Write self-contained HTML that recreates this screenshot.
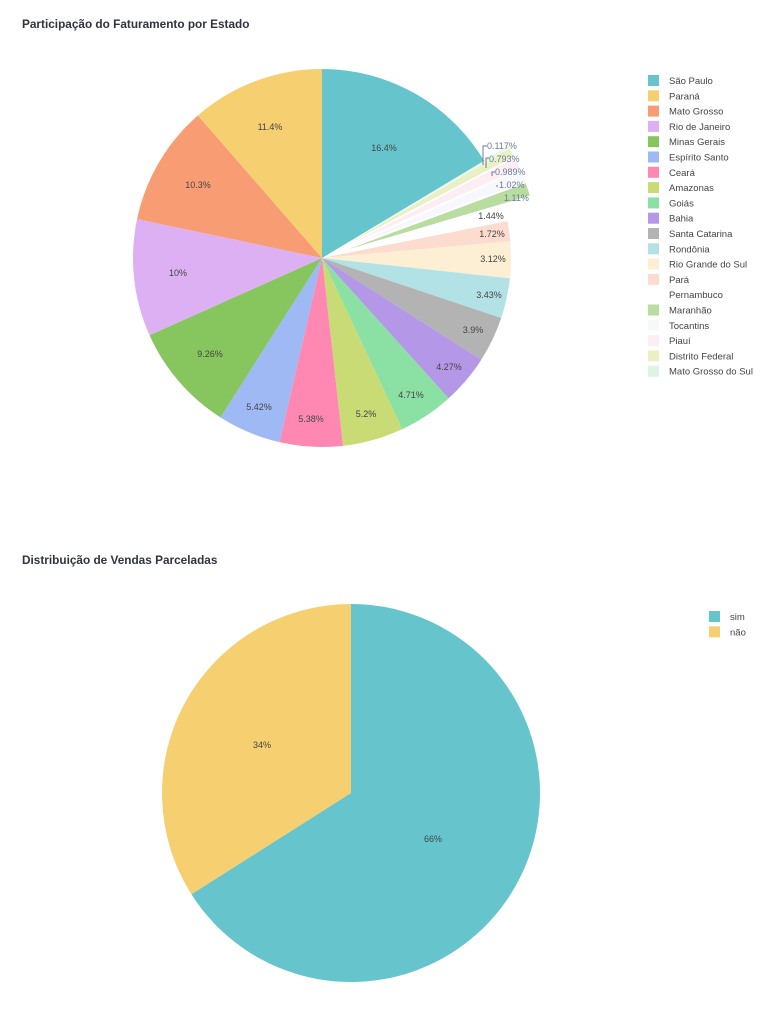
<!DOCTYPE html>
<html><head><meta charset="utf-8"><style>
body{margin:0;background:#fff;width:779px;height:1024px;overflow:hidden}
svg{font-family:"Liberation Sans","DejaVu Sans",sans-serif}
</style></head><body>
<svg id="s" width="779" height="1024" xmlns="http://www.w3.org/2000/svg">
<text x="22" y="28" font-size="11.8" font-weight="bold" fill="#31333f">Participação do Faturamento por Estado</text>
<text x="22" y="564" font-size="11.8" font-weight="bold" fill="#31333f">Distribuição de Vendas Parceladas</text>
</svg>
<script>
const s=document.getElementById('s');const NS='http://www.w3.org/2000/svg';
function el(t,a,txt){const e=document.createElementNS(NS,t);for(const k in a)e.setAttribute(k,a[k]);if(txt!==undefined)e.textContent=txt;s.appendChild(e);return e;}
function pie(cx,cy,r,data){let a=0;for(const d of data){const sw=d.v/100*2*Math.PI;const m=a+sw/2;const px=(d.pull||0)*Math.sin(m),py=-(d.pull||0)*Math.cos(m);
const x0=cx+px+r*Math.sin(a),y0=cy+py-r*Math.cos(a),x1=cx+px+r*Math.sin(a+sw),y1=cy+py-r*Math.cos(a+sw);
el('path',{d:`M${cx+px},${cy+py}L${x0},${y0}A${r},${r} 0 ${sw>Math.PI?1:0} 1 ${x1},${y1}Z`,fill:d.c,stroke:'#fff','stroke-width':0});a+=sw;}}
const st=[['São Paulo',16.4,'#66c5cc'],['Mato Grosso do Sul',0.117,'#dcf5e2',1],['Distrito Federal',0.793,'#e8f0c4',1],['Piauí',0.989,'#fdeef4',1],['Tocantins',1.02,'#f7f8fd',1],['Maranhão',1.11,'#b9dca0',1],['Pernambuco',1.44,'#ffffff',1],['Pará',1.72,'#fddcd0'],['Rio Grande do Sul',3.12,'#fcefd3'],['Rondônia',3.43,'#b3e2e6'],['Santa Catarina',3.9,'#b3b3b3'],['Bahia',4.27,'#b497e7'],['Goiás',4.71,'#8be0a4'],['Amazonas',5.2,'#c9db74'],['Ceará',5.38,'#fe88b1'],['Espírito Santo',5.42,'#9eb9f3'],['Minas Gerais',9.26,'#87c55f'],['Rio de Janeiro',10,'#dcb0f2'],['Mato Grosso',10.3,'#f89c74'],['Paraná',11.4,'#f6cf71']];
pie(322,258,189,st.map(x=>({v:x[1]*100/99.979,c:x[2],pull:x[3]?28:0})));
const lab=[['16.4%',384,151],['11.4%',270,130],['10.3%',198,188],['10%',178,276],['9.26%',210,357],['5.42%',259,410],['5.38%',311,422],['5.2%',366,417],['4.71%',411,398],['4.27%',449,370],['3.9%',473,333],['3.43%',489,298],['3.12%',493,262],['1.72%',492,237],['1.44%',491,219]];
for(const l of lab)el('text',{x:l[1],y:l[2],'font-size':9,fill:'#444','text-anchor':'middle'},l[0]);
const out=[['0.117%',487,149],['0.793%',489,162],['0.989%',495,175],['1.02%',499,188],['1.11%',504,201]];
for(const o of out)el('text',{x:o[1],y:o[2],'font-size':9,fill:'#6b7a99'},o[0]);
el('path',{d:'M483,165V146H487M486,168V158H489M492,176V172H495M496,186H498',stroke:'#6b7a99',fill:'none','stroke-width':1});
const order=['São Paulo','Paraná','Mato Grosso','Rio de Janeiro','Minas Gerais','Espírito Santo','Ceará','Amazonas','Goiás','Bahia','Santa Catarina','Rondônia','Rio Grande do Sul','Pará','Pernambuco','Maranhão','Tocantins','Piauí','Distrito Federal','Mato Grosso do Sul'];
order.forEach((n,i)=>{const c=st.find(x=>x[0]==n)[2];const y=80+i*15.3;el('rect',{x:648,y:y-5,width:11,height:11,fill:c});el('text',{x:669,y:y+4,'font-size':9.5,fill:'#444'},n);});
pie(351,793,189,[{v:66,c:'#66c5cc'},{v:34,c:'#f6cf71'}]);
el('text',{x:433,y:842,'font-size':9,fill:'#444','text-anchor':'middle'},'66%');
el('text',{x:262,y:748,'font-size':9,fill:'#444','text-anchor':'middle'},'34%');
[['sim','#66c5cc'],['não','#f6cf71']].forEach((d,i)=>{const y=616+i*15.3;el('rect',{x:709,y:y-5,width:11,height:11,fill:d[1]});el('text',{x:730,y:y+4,'font-size':9.5,fill:'#444'},d[0]);});
</script>
</body></html>
